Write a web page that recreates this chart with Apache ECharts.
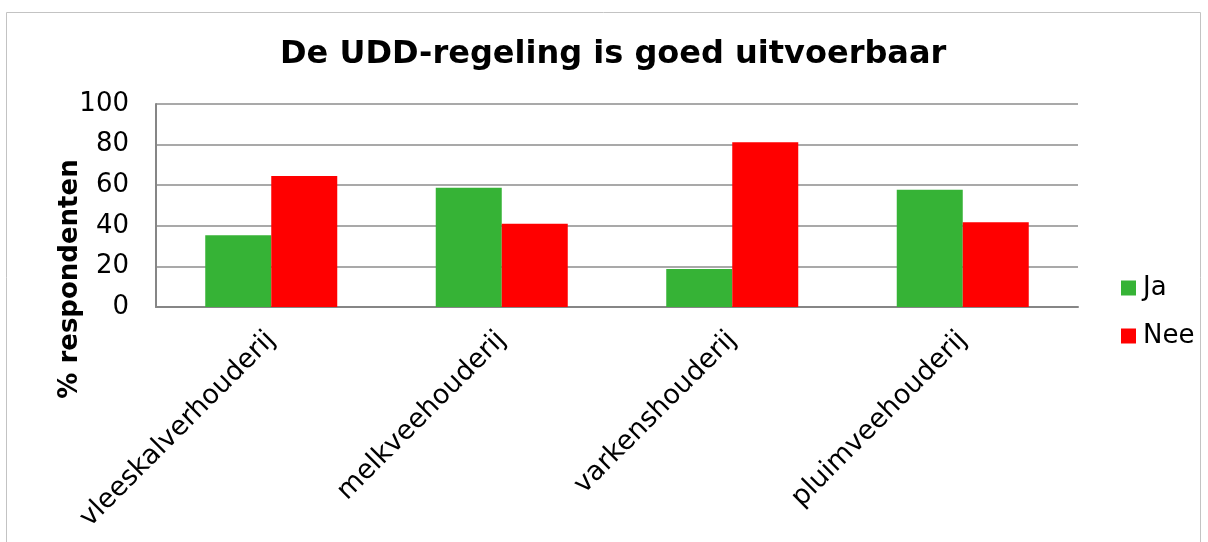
<!DOCTYPE html>
<html>
<head>
<meta charset="utf-8">
<style>
  html, body { margin: 0; padding: 0; background: #fff; }
  #chart { width: 1208px; height: 542px; }
</style>
<script src="https://cdn.jsdelivr.net/npm/echarts@6/dist/echarts.min.js"></script>
</head>
<body>
<div id="chart"></div>
<script>
// data
const categories = ['vleeskalverhouderij', 'melkveehouderij', 'varkenshouderij', 'pluimveehouderij']
const jaValues = [35.4, 58.8, 18.7, 57.8]
const neeValues = [64.5, 41.0, 81.1, 41.8]

const font = 'DejaVu Sans'
const chart = echarts.init(document.getElementById('chart'))

chart.setOption({
  animation: false,
  textStyle: { fontFamily: font },
  graphic: [
    {
      type: 'rect',
      shape: { x: 6.5, y: 12.5, width: 1194, height: 540 },
      style: { fill: 'none', stroke: '#c3c3c3', lineWidth: 1 },
      silent: true
    }
  ],
  title: {
    text: 'De UDD-regeling is goed uitvoerbaar',
    left: 280,
    top: 39,
    padding: 0,
    textStyle: { fontFamily: font, fontSize: 32, fontWeight: 'bold', color: '#000' }
  },
  legend: {
    orient: 'vertical',
    left: 1121,
    top: 275,
    padding: 0,
    itemWidth: 15,
    itemHeight: 15,
    itemGap: 22,
    icon: 'rect',
    textStyle: { fontFamily: font, fontSize: 26, color: '#000', padding: [0, 0, 0, 2] },
    data: ['Ja', 'Nee']
  },
  grid: {
    left: 156,
    right: 130,
    top: 104,
    bottom: 235,
    containLabel: false
  },
  xAxis: {
    type: 'category',
    data: categories,
    axisLine: { lineStyle: { color: '#868686', width: 2 } },
    axisTick: { show: false },
    axisLabel: {
      rotate: 45,
      margin: 29,
      interval: 0,
      fontFamily: font,
      fontSize: 27,
      color: '#000'
    }
  },
  yAxis: {
    type: 'value',
    min: 0,
    max: 100,
    interval: 20,
    name: '% respondenten',
    nameLocation: 'middle',
    nameRotate: 90,
    nameGap: 73,
    nameMoveOverlap: false,
    nameTextStyle: {
      fontFamily: font,
      fontSize: 26,
      fontWeight: 'bold',
      color: '#000',
      padding: [0, 147, 0, 0]
    },
    axisLine: { show: true, lineStyle: { color: '#868686', width: 2 } },
    axisTick: { show: false },
    axisLabel: { margin: 27, fontFamily: font, fontSize: 26, color: '#000' },
    splitLine: { lineStyle: { color: '#8c8c8c', width: 1.5 } }
  },
  series: [
    {
      name: 'Ja',
      type: 'bar',
      data: jaValues,
      barWidth: 66,
      barGap: '0%',
      itemStyle: { color: '#36b336' }
    },
    {
      name: 'Nee',
      type: 'bar',
      data: neeValues,
      barWidth: 66,
      itemStyle: { color: '#ff0000' }
    }
  ]
})
</script>
</body>
</html>
